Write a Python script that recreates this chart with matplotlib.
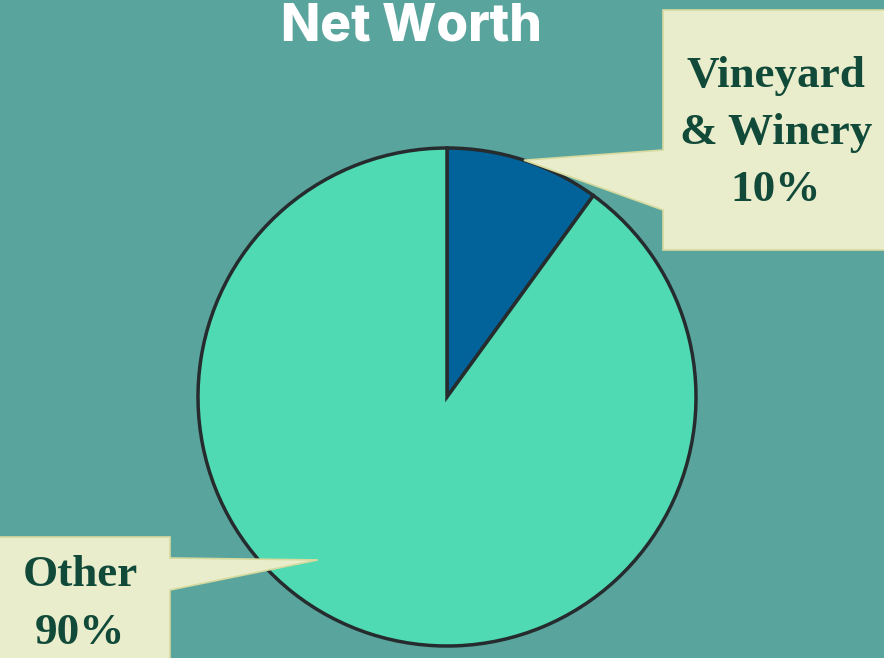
import matplotlib
matplotlib.use("Agg")
import matplotlib.pyplot as plt
from matplotlib.patches import Polygon
import numpy as np

# Data
labels = ["Vineyard\n& Winery", "Other"]
shares = [10, 90]
colors = ["#02639A", "#4FDAB4"]

W, H = 884, 658
BG = "#5AA49E"
BOX = "#E9EDCB"
BOX_EDGE = "#D6DA9E"
TXT = "#124A3A"

fig = plt.figure(figsize=(W / 100, H / 100), dpi=100, facecolor=BG)
ax = fig.add_axes([0, 0, 1, 1])
ax.set_xlim(0, W)
ax.set_ylim(0, H)
ax.set_aspect("equal")
ax.axis("off")

cx, cy, r = 447, H - 397, 249
wedges, _ = ax.pie(shares, colors=colors, startangle=90, counterclock=False,
                   center=(cx, cy), radius=r,
                   wedgeprops=dict(edgecolor="#262B2E", linewidth=2.5))
ax.set_xlim(0, W)
ax.set_ylim(0, H)


def Y(y):
    return H - y


def point_on(angle_deg, frac):
    a = np.deg2rad(angle_deg)
    return cx + frac * r * np.cos(a), cy + frac * r * np.sin(a)


# Callout for the first slice, pointing at its mid-angle on the rim
w0 = wedges[0]
mid0 = (w0.theta1 + w0.theta2) / 2
tx, ty = point_on(mid0, 1.0)
box1 = [(663, Y(10)), (900, Y(10)), (900, Y(250)), (663, Y(250)), (663, Y(210)),
        (tx, ty), (663, Y(150))]
ax.add_patch(Polygon(box1, closed=True, facecolor=BOX, edgecolor=BOX_EDGE, lw=1.2, zorder=5))

# Callout for the second slice
tx2, ty2 = point_on(231.6, 0.835)
box2 = [(-10, Y(537)), (170, Y(537)), (170, Y(558)), (tx2, ty2), (170, Y(590)),
        (170, Y(670)), (-10, Y(670))]
ax.add_patch(Polygon(box2, closed=True, facecolor=BOX, edgecolor=BOX_EDGE, lw=1.2, zorder=5))

serif = ["Liberation Serif", "DejaVu Serif"]
ax.text(776, Y(133), f"{labels[0]}\n{shares[0]}%", ha="center", va="center",
        fontsize=32.5, fontweight="bold", family=serif, color=TXT,
        linespacing=1.55, zorder=6)
ax.text(80, Y(604), f"{labels[1]}\n{shares[1]}%", ha="center", va="center",
        fontsize=32.5, fontweight="bold", family=serif, color=TXT,
        linespacing=1.55, zorder=6)

ax.text(411, Y(27), "Net Worth", ha="center", va="center", fontsize=37,
        fontweight="heavy", family=["Inter", "DejaVu Sans"], color="white")

fig.savefig("out.png", dpi=100, facecolor=BG)
